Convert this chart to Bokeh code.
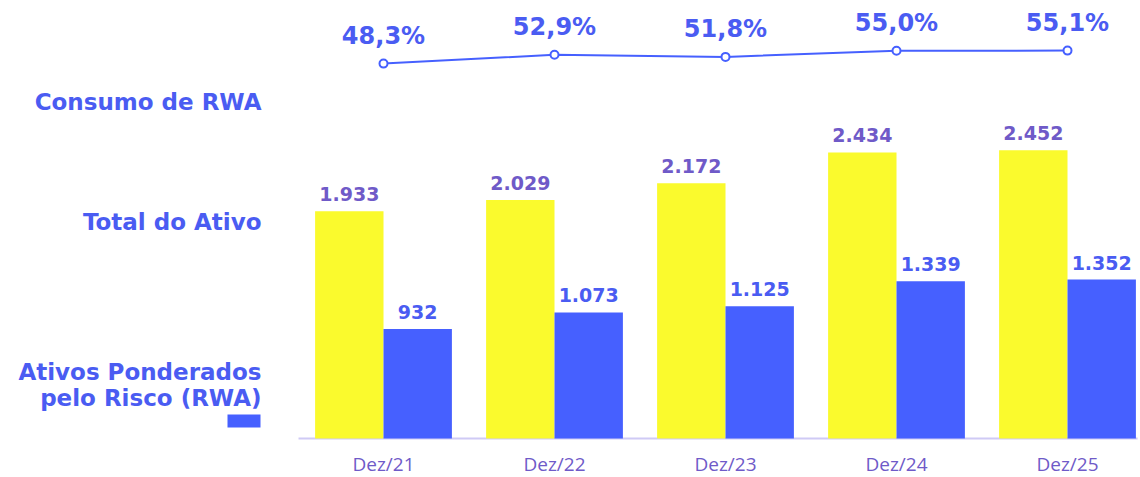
import numpy as np
from bokeh.plotting import figure
from bokeh.models import Range1d, Label, ColumnDataSource, BoxAnnotation
from bokeh.core.properties import value
from bokeh.embed import file_html
from bokeh.resources import INLINE

categories = ["Dez/21", "Dez/22", "Dez/23", "Dez/24", "Dez/25"]
total_ativo = [1933, 2029, 2172, 2434, 2452]
rwa = [932, 1073, 1125, 1339, 1352]
consumo_rwa = [48.3, 52.9, 51.8, 55.0, 55.1]

YELLOW = "#fafa2d"
BLUE = "#4660ff"
PURPLE = "#6f5ac8"
TXT_BLUE = "#4a5cf2"
AXIS = "#cfcaf5"
BOLD_FONT = "DejaVu Sans"
LIGHT_FONT = "Open Sans"

def fmt_thousands(v):
    return f"{v:,}".replace(",", ".")

def fmt_pct(v):
    return f"{v:.1f}".replace(".", ",") + "%"

idx = np.arange(len(categories))

W, H = 1140, 477
p = figure(width=W, height=H, output_backend="svg", toolbar_location=None,
           x_range=Range1d(-2.2398, 4.4269), y_range=Range1d(-332, 3727),
           min_border=0, min_border_left=0, min_border_right=0,
           min_border_top=0, min_border_bottom=0)
p.outline_line_color = None
p.xgrid.visible = False
p.ygrid.visible = False
p.xaxis.visible = False
p.yaxis.visible = False
p.background_fill_color = "white"
p.border_fill_color = "white"

p.extra_y_ranges = {"pct": Range1d(-168.2, 81.3)}

src = ColumnDataSource(dict(
    x=idx.astype(float),
    xa=idx - 0.2, xb=idx + 0.2,
    zero=[0] * len(categories),
    cat=categories,
    ta=total_ativo, rb=rwa, pc=consumo_rwa,
    ta_lbl=[fmt_thousands(v) for v in total_ativo],
    rb_lbl=[fmt_thousands(v) for v in rwa],
    pc_lbl=[fmt_pct(v) for v in consumo_rwa],
))

# x axis baseline
p.segment(x0=[-0.497], y0=[0], x1=[4.41], y1=[0], line_color=AXIS, line_width=2)

p.vbar(x="xa", top="ta", width=0.4, bottom=0, source=src, fill_color=YELLOW, line_color=None)
p.vbar(x="xb", top="rb", width=0.4, bottom=0, source=src, fill_color=BLUE, line_color=None)

p.text(x="xa", y="ta", text="ta_lbl", source=src, text_align="center", text_baseline="bottom",
       y_offset=-10, text_font=value(BOLD_FONT), text_font_style="bold", text_font_size="19px",
       text_color=PURPLE)
p.text(x="xb", y="rb", text="rb_lbl", source=src, text_align="center", text_baseline="bottom",
       y_offset=-10, text_font=value(BOLD_FONT), text_font_style="bold", text_font_size="19px",
       text_color=TXT_BLUE)

# category labels
p.text(x="x", y="zero", text="cat", source=src, text_align="center", text_baseline="middle",
       y_offset=26, text_font=value(LIGHT_FONT), text_font_size="19px", text_color=PURPLE)

p.line(x="x", y="pc", source=src, y_range_name="pct", line_color=BLUE, line_width=2)
p.scatter(x="x", y="pc", source=src, y_range_name="pct", size=8, fill_color="white",
          line_color=BLUE, line_width=2)
p.text(x="x", y="pc", text="pc_lbl", source=src, y_range_name="pct", text_align="center",
       text_baseline="bottom", y_offset=-14, text_font=value(BOLD_FONT), text_font_style="bold",
       text_font_size="24px", text_color=TXT_BLUE)

def side_label(text, page_x, page_y, size="23px"):
    p.add_layout(Label(x=page_x, y=H - page_y, x_units="screen", y_units="screen",
                       text=text, text_align="right", text_baseline="middle",
                       text_font=BOLD_FONT, text_font_style="bold", text_font_size=size,
                       text_color=TXT_BLUE))

side_label("Consumo de RWA", 261, 101)
side_label("Total do Ativo", 261, 221)
side_label("Ativos Ponderados", 261, 371)
side_label("pelo Risco (RWA)", 261, 397)

# legend swatch for RWA
p.add_layout(BoxAnnotation(left=227, right=260, bottom=H - 427, top=H - 414,
                           left_units="screen", right_units="screen",
                           bottom_units="screen", top_units="screen",
                           fill_color=BLUE, fill_alpha=1, line_color=None))

open("out.html", "w").write(file_html(p, INLINE))
